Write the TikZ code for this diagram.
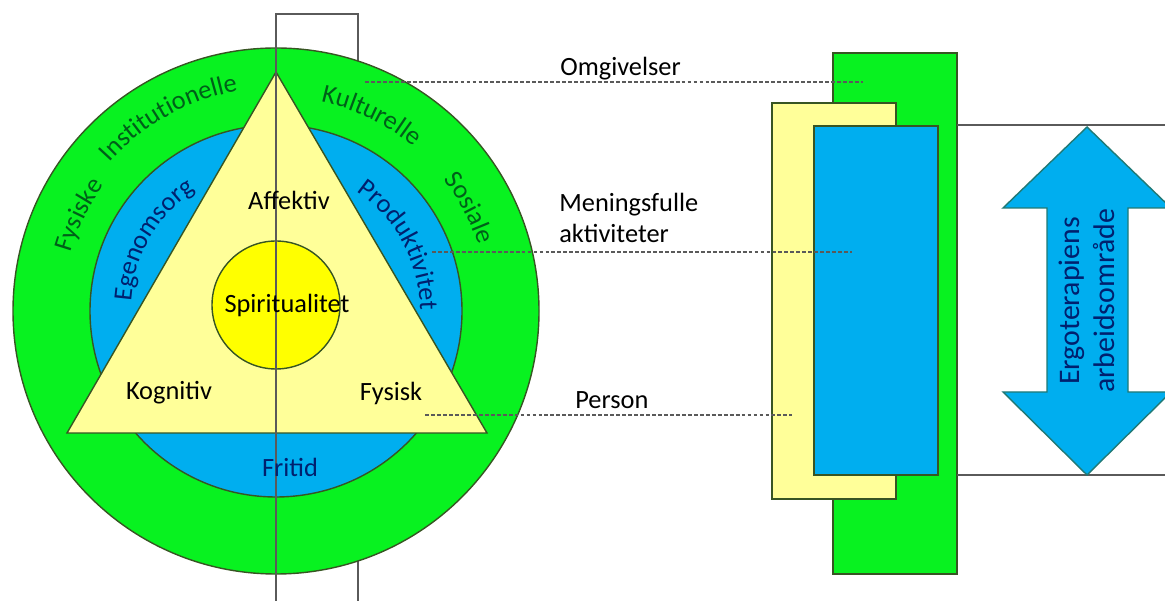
\documentclass[tikz,border=0pt]{standalone}
\usepackage{fontspec}
\setmainfont{Carlito}
\usetikzlibrary{calc, decorations.text}

\definecolor{ringgreen}{RGB}{8,242,32}
\definecolor{ringblue}{RGB}{0,174,239}
\definecolor{paleyellow}{RGB}{255,255,153}
\definecolor{spiryellow}{RGB}{255,255,0}
\definecolor{edgecol}{RGB}{55,85,35}
\definecolor{greentxt}{RGB}{0,95,25}
\definecolor{bluetxt}{RGB}{0,32,110}
\definecolor{guidecol}{RGB}{90,90,90}

\begin{document}
\begin{tikzpicture}[
    x=0.02cm, y=0.02cm,
    part/.style={draw=edgecol, line width=0.8pt},
    lbl/.style={font=\fontsize{15}{18}\selectfont, inner sep=0pt},
    guideline/.style={draw=guidecol, dash pattern=on 2.2pt off 1.2pt, line width=0.6pt},
    thinline/.style={draw=guidecol, line width=0.7pt},
    ringtext/.style 2 args={decorate, decoration={text along path, text align=center,
        text color=#2, text={|\fontsize{15}{18}\selectfont|#1}}}
]
\clip (0,0) rectangle (1165,601);

% Model: frame behind the rings
\coordinate (c) at (276,290);
\draw[thinline] (276,-20) -- (276,587) -- (358,587) -- (358,-20);

% Rings, triangle, core
\filldraw[part, fill=ringgreen] (c) circle (263);
\filldraw[part, fill=ringblue] (c) circle (186);
\filldraw[part, fill=paleyellow] (276,529) -- (487,168) -- (67,168) -- cycle;
\filldraw[part, fill=spiryellow] (276,296) circle (64);
\draw[thinline] (276,-20) -- (276,587);

% Environment (green ring)
\path[ringtext={Fysiske}{greentxt}] ($(c)+(194:213)$) arc (194:114:213);
\path[ringtext={Institutionelle}{greentxt}] ($(c)+(159:223)$) arc (159:79:223);
\path[ringtext={Kulturelle}{greentxt}] ($(c)+(104:214)$) arc (104:24:214);
\path[ringtext={Sosiale}{greentxt}] ($(c)+(68:213)$) arc (68:-12:213);

% Occupations (blue ring)
\path[ringtext={Egenomsorg}{bluetxt}] ($(c)+(190:145)$) arc (190:110:145);
\path[ringtext={Produktivitet}{bluetxt}] ($(c)+(68:144)$) arc (68:-12:144);
\node[lbl, text=bluetxt] (fri) at (290,134) {Fritid};

% Person (triangle)
\node[lbl] (aff) at (289,401) {Affektiv};
\node[lbl] (spir) at (287,296) {Spiritualitet};
\node[lbl] (kog) at (169,208) {Kognitiv};
\node[lbl] (fys) at (391,208) {Fysisk};

% Stacked bars
\filldraw[part, fill=ringgreen] (833,27) rectangle (957,548);
\filldraw[part, fill=paleyellow] (772,102) rectangle (896,498);
\filldraw[part, fill=ringblue] (814,126) rectangle (938,475);
\coordinate (bar-top) at (957,476);
\coordinate (bar-bot) at (957,126);
\draw[thinline] (bar-top) -- (1170,476);
\draw[thinline] (bar-bot) -- (1170,126);

% Guide lines
\coordinate (omg-a) at (365,519);
\coordinate (omg-b) at (863,519);
\coordinate (men-a) at (432,349);
\coordinate (men-b) at (852,349);
\coordinate (per-a) at (425,186);
\coordinate (per-b) at (792,186);
\draw[guideline] (omg-a) -- (omg-b);
\draw[guideline] (men-a) -- (men-b);
\draw[guideline] (per-a) -- (per-b);
\node[lbl, anchor=west] (omg) at (560,532) {Omgivelser};
\node[lbl, anchor=west, align=left] (men) at (559,383) {Meningsfulle\\aktiviteter};
\node[lbl, anchor=west] (pers) at (575,201) {Person};

% Double arrow
\filldraw[draw=edgecol!60!ringblue, line width=0.8pt, fill=ringblue]
  (1087,474) -- (1171,393) -- (1128,393) -- (1128,209) -- (1171,209)
  -- (1087,126) -- (1003,209) -- (1047,209) -- (1047,393) -- (1003,393) -- cycle;
\node[rotate=90, align=center, inner sep=0pt, font=\fontsize{17}{20}\selectfont, text=bluetxt]
  (ergo) at (1087,300) {Ergoterapiens\\arbeidsområde};
\end{tikzpicture}
\end{document}
